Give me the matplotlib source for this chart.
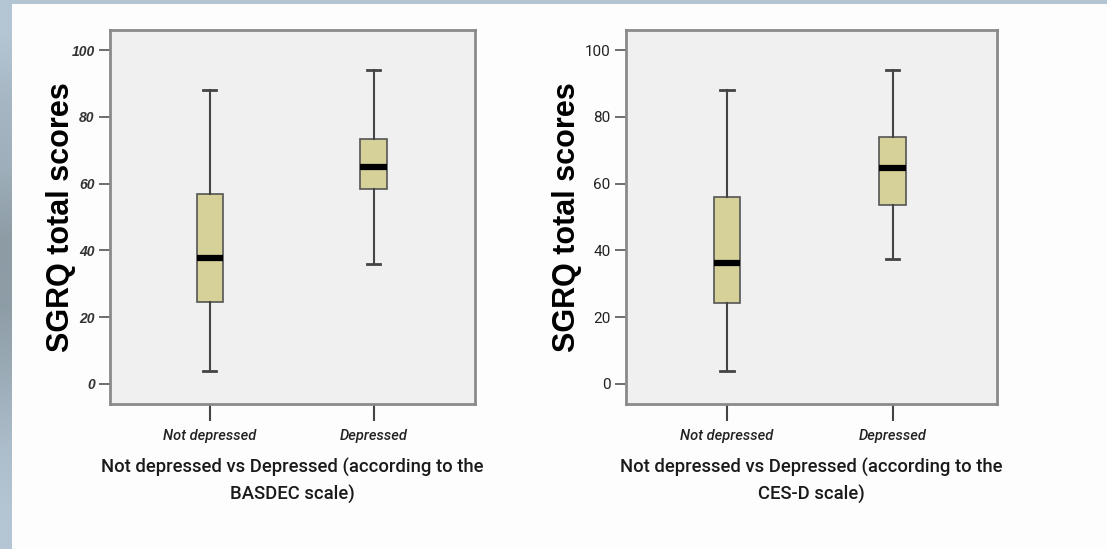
import numpy as np
import matplotlib
matplotlib.use("Agg")
import matplotlib.pyplot as plt

# SGRQ total scores by depression status, two screening scales
groups = ["Not depressed", "Depressed"]

basdec_whislo = [3.9, 36.0]
basdec_q1 = [24.6, 58.5]
basdec_med = [37.6, 64.9]
basdec_q3 = [57.0, 73.5]
basdec_whishi = [88.1, 94.1]

cesd_whislo = [3.9, 37.3]
cesd_q1 = [24.3, 53.5]
cesd_med = [36.1, 64.6]
cesd_q3 = [56.1, 74.1]
cesd_whishi = [88.1, 94.1]

yticks = [0, 20, 40, 60, 80, 100]

SANS = ["Liberation Sans", "DejaVu Sans"]
LABEL_FONT = ["Roboto", "DejaVu Sans"]
BOX_FILL = "#d5d198"
FRAME = "#8a8a8a"


def make_stats(lo, q1, med, q3, hi):
    stats = []
    for i in range(len(groups)):
        stats.append({"whislo": lo[i], "q1": q1[i], "med": med[i],
                      "q3": q3[i], "whishi": hi[i], "fliers": []})
    return stats


def draw_panel(ax, stats, scale_name, italic_y, label_x):
    ax.bxp(stats, positions=[1, 2], widths=0.16, capwidths=0.08,
           patch_artist=True, showfliers=False,
           boxprops=dict(facecolor=BOX_FILL, edgecolor="#555555", linewidth=1.2),
           medianprops=dict(color="black", linewidth=4.5),
           whiskerprops=dict(color="#444444", linewidth=1.5),
           capprops=dict(color="#444444", linewidth=2))
    ax.set_facecolor("#f0f0f0")
    ax.set_xlim(0.39, 2.62)
    ax.set_ylim(-6, 106)
    ax.set_yticks(yticks)
    ax.set_xticks([1, 2])
    ax.set_xticklabels(groups, family=LABEL_FONT, style="italic", weight="medium",
                       fontsize=10.5, color="#222222")
    if italic_y:
        ax.set_yticklabels([str(v) for v in yticks], family=SANS,
                           style="italic", weight="bold", fontsize=10, color="#333333")
    else:
        ax.set_yticklabels([str(v) for v in yticks], family=LABEL_FONT, fontsize=11,
                           color="#222222")
    ax.tick_params(axis="y", length=8, width=1.2, color="#555555", pad=3)
    ax.tick_params(axis="x", length=12, width=1.5, color="#444444", pad=6)
    for s in ax.spines.values():
        s.set_color(FRAME)
        s.set_linewidth(2)
    ax.set_ylabel("SGRQ total scores", family=SANS, weight="bold", fontsize=22)
    ax.yaxis.set_label_coords(label_x, 0.5)
    ax.set_xlabel("Not depressed vs Depressed (according to the\n%s scale)" % scale_name,
                  family=LABEL_FONT, weight="medium", fontsize=13.3, labelpad=11,
                  linespacing=1.5, color="#1a1a1a")


fig = plt.figure(figsize=(11.07, 5.49), dpi=100)
fig.patch.set_facecolor("#fdfdfd")

# slide border: thin top band and shaded strip on the left
top = fig.add_axes([0, 1 - 4 / 549, 1, 4 / 549])
top.set_axis_off()
top.add_patch(plt.Rectangle((0, 0), 1, 1, color="#b3c5d3", transform=top.transAxes))

strip = fig.add_axes([0, 0, 12 / 1107, 1])
shade = np.array([[0.0], [0.35], [0.55], [1.0], [0.95], [0.6], [0.2], [0.0]])
light = np.array([180, 197, 212]) / 255
dark = np.array([140, 155, 164]) / 255
img = light + shade[:, :, None] * (dark - light)
strip.imshow(img, aspect="auto", interpolation="bilinear", extent=[0, 1, 0, 1])
strip.set_axis_off()

ax1 = fig.add_axes([110 / 1107, 145 / 549, 365 / 1107, 374 / 549])
draw_panel(ax1, make_stats(basdec_whislo, basdec_q1, basdec_med, basdec_q3, basdec_whishi),
           "BASDEC", True, -0.093)

ax2 = fig.add_axes([626 / 1107, 145 / 549, 371 / 1107, 374 / 549])
draw_panel(ax2, make_stats(cesd_whislo, cesd_q1, cesd_med, cesd_q3, cesd_whishi),
           "CES-D", False, -0.119)
ax2.set_xlim(0.39, 2.63)

fig.savefig("out.png", dpi=100, facecolor=fig.get_facecolor())
